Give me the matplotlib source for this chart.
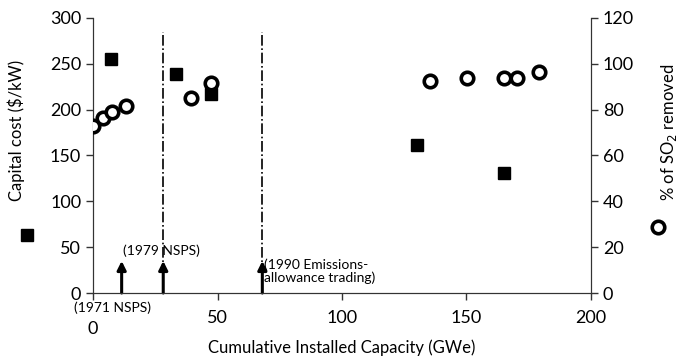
import matplotlib.pyplot as plt
from matplotlib.transforms import ScaledTranslation

plt.rcParams['font.family'] = ['Lato', 'DejaVu Sans']

# capital cost ($/kW), squares
cost_x = [7.1, 33.2, 47.3, 130.3, 165.2]
cost_y = [255, 239, 217, 161, 131]

# % of SO2 removed, open circles
so2_x = [0.1, 4.1, 7.5, 13.1, 39.2, 47.3, 135.3, 150.2, 165.1, 170.4, 179.2]
so2_y = [73.0, 76.2, 78.8, 81.6, 84.9, 91.5, 92.5, 93.9, 93.9, 93.9, 96.3]

policy_lines = [28.2, 68.0]
arrow_x = [11.5, 28.2, 68.0]

fig = plt.figure(figsize=(6.81, 3.59), dpi=100)
ax = fig.add_axes([0.1366, 0.1838, 0.7312, 0.7662])
ax2 = ax.twinx()

ax.plot(cost_x, cost_y, 's', color='black', markersize=9, zorder=3)
ax2.plot(so2_x, so2_y, 'o', markerfacecolor='white', markeredgecolor='black',
         markersize=9, markeredgewidth=2.6, zorder=3)

for x in policy_lines:
    ax.plot([x, x], [0, 285], color='black', linestyle='-.', linewidth=1.2)

for x in arrow_x:
    ax.annotate('', xy=(x, 35), xytext=(x, 0),
                arrowprops=dict(arrowstyle='-|>', color='black', lw=2.2,
                                mutation_scale=13, shrinkA=0, shrinkB=0))

ax.text(8.0, -9, '(1971 NSPS)', ha='center', va='top', fontsize=10)
ax.text(27.5, 39, '(1979 NSPS)', ha='center', va='bottom', fontsize=10)
ax.text(68.8, 38, '(1990 Emissions-\nallowance trading)', ha='left', va='top',
        fontsize=10, linespacing=1.05)

ax.set_xlim(0, 200)
ax.set_ylim(0, 300)
ax2.set_ylim(0, 120)
ax.set_xticks([0, 50, 100, 150, 200])
ax.set_yticks([0, 50, 100, 150, 200, 250, 300])
ax2.set_yticks([0, 20, 40, 60, 80, 100, 120])

for a in (ax, ax2):
    a.spines['top'].set_visible(False)
    a.tick_params(labelsize=13, length=5, color='#333333', width=1)
    for s in a.spines.values():
        s.set_color('#333333')
ax.tick_params(axis='x', pad=7)

# the "0" label sits a little lower, under the 1971 note
zero = ax.xaxis.get_major_ticks()[0].label1
zero.set_transform(zero.get_transform() + ScaledTranslation(0, -8 / 72, fig.dpi_scale_trans))

ax.set_xlabel('Cumulative Installed Capacity (GWe)', fontsize=12)
ax.xaxis.set_label_coords(0.5, -0.17)
ax.set_ylabel('Capital cost ($/kW)', fontsize=12)
ax.yaxis.set_label_coords(-0.137, 0.59)
ax2.set_ylabel('% of SO$_2$ removed', fontsize=12, rotation=90)
ax2.yaxis.set_label_coords(1.136, 0.585)

# marker keys next to axis labels
ax.plot([-0.133], [0.2109], 's', color='black', markersize=9,
        transform=ax.transAxes, clip_on=False)
ax2.plot([1.135], [0.2400], 'o', markerfacecolor='white', markeredgecolor='black',
         markersize=9, markeredgewidth=2.6, transform=ax2.transAxes, clip_on=False)

fig.savefig('out.png', dpi=100)
